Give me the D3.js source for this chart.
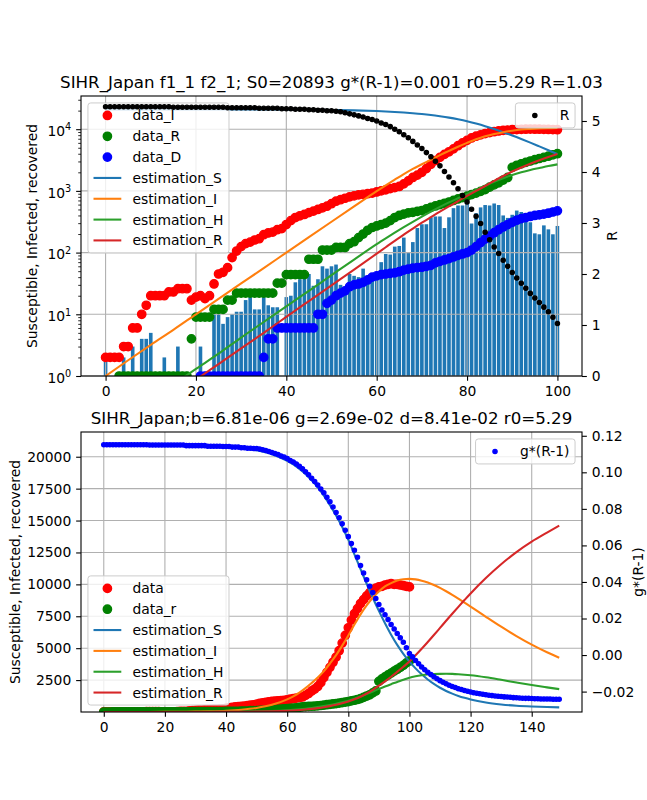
<!DOCTYPE html>
<html><head><meta charset="utf-8">
<script src="https://cdn.jsdelivr.net/npm/d3@7"></script>
<style>
body{margin:0;background:#fff}
text{font-family:"DejaVu Sans",sans-serif}
</style>
</head><body>
<svg id="c" width="647" height="800"></svg>
<script>
// ---------------- DATA ----------------
const days = d3.range(0, 101);
const dataI = [2,2,2,2,3,3,6,6,10,14,
 20,20,20,20,23,23,26,26,26,17,
 19,20,18,20,31,45,48,57,83,106,
 125,140,148,160,168,195,208,215,235,245,
 285,330,370,395,415,445,470,500,530,565,
 620,680,720,760,800,830,860,880,900,920,
 960,1000,1040,1090,1130,1180,1300,1450,1650,1800,
 2000,2300,2700,3100,3500,3900,4300,4800,5400,6000,
 6600,7200,7700,8100,8500,8800,9100,9350,9550,9700,
 9800,9850,9950,10000,10050,10000,10000,9950,9900,9850,
 9800];
const dataR = [0,0,0,1,1,1,1,1,1,1,
 1,1,1,1,1,1,1,1,1,4,
 9,9,9,9,12,12,12,17,17,22,
 22,22,22,22,22,22,22,22,32,32,
 44,44,44,44,44,78,78,78,110,110,
 110,121,121,121,140,150,175,200,230,255,
 270,285,300,330,370,400,420,440,450,465,
 480,510,540,570,600,630,660,700,740,780,
 820,870,920,980,1050,1150,1250,1350,1500,1650,
 2400,2600,2750,2900,3050,3200,3350,3500,3650,3850,
 4000];
const dataD = [0,0,0,0,0,0,0,0,0,0,
 0,0,0,0,0,0,0,0,0,0,
 0,1,1,1,1,1,1,1,1,1,
 1,1,1,1,1,2,4,4,6,6,
 6,6,6,6,6,6,6,10,10,15,
 17,20,22,24,28,30,31,33,36,40,
 42,44,45,46,47,49,52,54,56,57,
 58,60,62,68,72,76,80,85,90,95,
 100,110,125,145,165,185,210,235,260,285,
 310,335,355,370,385,400,410,420,435,455,
 475];
const dailyBars = [2,0,0,0,2,0,3,0,4,4,
 5,0,0,2,0,0,3,0,0,0,
 0,3,0,0,10,10,7,9,10,11,
 11,17,19,12,12,19,14,13,13,0,
 19,20,33,37,42,45,29,37,60,55,
 60,64,30,22,45,42,40,55,38,42,
 38,70,95,93,125,128,175,102,148,250,
 288,288,373,385,385,250,373,525,580,580,
 650,296,435,540,590,580,625,590,400,365,
 410,480,455,410,310,205,198,276,238,198,
 270];
const Rvals = [5.28,5.28,5.28,5.28,5.28,5.28,5.28,5.28,5.28,5.28,
 5.28,5.28,5.28,5.28,5.28,5.27,5.27,5.27,5.27,5.27,
 5.27,5.27,5.27,5.27,5.27,5.27,5.27,5.26,5.26,5.26,
 5.26,5.26,5.26,5.26,5.25,5.25,5.25,5.25,5.25,5.24,
 5.24,5.24,5.23,5.23,5.23,5.22,5.22,5.21,5.21,5.20,
 5.20,5.19,5.18,5.16,5.14,5.12,5.10,5.08,5.05,5.03,
 5.00,4.96,4.93,4.89,4.84,4.79,4.73,4.67,4.60,4.53,
 4.46,4.38,4.30,4.21,4.12,4.01,3.90,3.79,3.67,3.54,
 3.41,3.27,3.13,2.99,2.82,2.67,2.53,2.40,2.27,2.15,
 2.03,1.92,1.82,1.72,1.62,1.53,1.44,1.35,1.26,1.15,
 1.03];
const gDays = d3.range(0, 150);
const gR1 = [0.1151,0.1151,0.1151,0.1151,0.1151,0.1151,0.1151,0.1151,0.1151,0.1151,
 0.1151,0.1151,0.1151,0.1151,0.1151,0.1149,0.1149,0.1149,0.1149,0.1149,
 0.1149,0.1149,0.1149,0.1149,0.1149,0.1149,0.1149,0.1146,0.1146,0.1146,
 0.1146,0.1146,0.1146,0.1146,0.1143,0.1143,0.1143,0.1143,0.1143,0.1141,
 0.1141,0.1141,0.1138,0.1138,0.1138,0.1135,0.1135,0.1132,0.1132,0.1130,
 0.1130,0.1127,0.1124,0.1119,0.1114,0.1108,0.1103,0.1098,0.1089,0.1084,
 0.1076,0.1065,0.1057,0.1046,0.1033,0.1020,0.1003,0.0987,0.0968,0.0950,
 0.0931,0.0909,0.0888,0.0863,0.0839,0.0810,0.0780,0.0751,0.0718,0.0683,
 0.0648,0.0611,0.0573,0.0535,0.0490,0.0449,0.0412,0.0377,0.0342,0.0309,
 0.0277,0.0247,0.0221,0.0194,0.0167,0.0143,0.0118,0.0094,0.0070,0.0040,
 0.0008,-0.0010,-0.0030,-0.0048,-0.0065,-0.0080,-0.0094,-0.0107,-0.0119,-0.0130,
 -0.0140,-0.0149,-0.0157,-0.0165,-0.0172,-0.0178,-0.0184,-0.0189,-0.0194,-0.0198,
 -0.0202,-0.0206,-0.0209,-0.0212,-0.0215,-0.0217,-0.0220,-0.0222,-0.0224,-0.0226,
 -0.0227,-0.0229,-0.0230,-0.0231,-0.0233,-0.0234,-0.0235,-0.0236,-0.0237,-0.0237,
 -0.0238,-0.0239,-0.0239,-0.0240,-0.0240,-0.0241,-0.0241,-0.0242,-0.0242,-0.0242];
const estDays = [0,5,10,15,20,25,30,35,40,45,50,55,60,
 62,64,66,68,70,72,74,76,78,80,
 82,84,86,88,90,92,94,96,98,100,
 102,104,106,108,110,112,114,116,118,120,
 125,130,135,140,145,149];
const estS = [20892,20891,20889,20886,20881,20872,20855,20825,20770,20670,20500,20200,19680,
 19400,19050,18650,18150,17600,16950,16200,15400,14500,13500,
 12350,11200,10050,8950,7920,6950,6060,5260,4560,3950,
 3420,2950,2550,2200,1900,1650,1440,1260,1110,980,
 740,590,490,430,390,365];
const estI = [1,1.8,3.2,5.6,10,17.8,31.6,56,100,178,316,560,990,
 1230,1520,1870,2270,2700,3200,3800,4450,5200,6000,
 6850,7650,8350,8950,9450,9850,10100,10300,10400,10430,
 10390,10290,10140,9950,9720,9460,9180,8880,8570,8260,
 7460,6680,5950,5280,4680,4250];
const estH = [0,0.24,0.41,0.73,1.3,2.3,4.2,7.5,13.4,24,43,77,137,
 170,210,258,315,382,460,550,650,760,890,
 1040,1210,1400,1600,1810,2000,2180,2350,2530,2690,
 2800,2880,2935,2970,2990,2995,2985,2960,2925,2880,
 2720,2520,2310,2110,1930,1790];
const estR = [0,0.15,0.27,0.48,0.87,1.56,2.8,5.0,9.1,16.4,29.5,53,96,
 122,155,195,245,305,375,460,560,680,830,
 1000,1200,1450,1740,2060,2400,2760,3140,3540,3950,
 4440,4950,5480,6030,6590,7150,7700,8240,8770,9290,
 10500,11580,12530,13350,14050,14600];

const xTicksTop = [0,20,40,60,80,100];
const yTicksTopLog = [1,10,100,1000,10000];
const rTicks = [0,1,2,3,4,5];
const xTicksBot = [0,20,40,60,80,100,120,140];
const yTicksBot = [2500,5000,7500,10000,12500,15000,17500,20000];
const gTicks = [-0.02,0,0.02,0.04,0.06,0.08,0.10,0.12];

const title1 = "SIHR_Japan f1_1 f2_1; S0=20893 g*(R-1)=0.001 r0=5.29 R=1.03";
const title2 = "SIHR_Japan;b=6.81e-06 g=2.69e-02 d=8.41e-02 r0=5.29";
const yLabel = "Susceptible, Infected, recovered";

// ---------------- LAYOUT ----------------
const C0='#1f77b4', C1='#ff7f0e', C2='#2ca02c', C3='#d62728';
const FS = 13.89, LW = 2.08, GRID='#b0b0b0';
const L=81, Rx=582;
const T1=96, B1=376, T2=432, B2=712;
const svg = d3.select('#c');
const defs = svg.append('defs');
defs.append('clipPath').attr('id','clipT').append('rect').attr('x',L).attr('y',T1).attr('width',Rx-L).attr('height',B1-T1);
defs.append('clipPath').attr('id','clipB').append('rect').attr('x',L).attr('y',T2).attr('width',Rx-L).attr('height',B2-T2);

const xT = d3.scaleLinear().domain([-5.44,105.44]).range([L,Rx]);
const yT = d3.scaleLog().domain([1,34500]).range([B1,T1]);
const rT = d3.scaleLinear().domain([0,5.49]).range([B1,T1]);
const xB = d3.scaleLinear().domain([-7.45,156.45]).range([L,Rx]);
const yB = d3.scaleLinear().domain([0,21938]).range([B2,T2]);
const gExt = d3.extent(gR1), gPad = (gExt[1]-gExt[0])*0.05;
const gB = d3.scaleLinear().domain([gExt[0]-gPad, gExt[1]+gPad]).range([B2,T2]);

function styleAxis(g){
  g.attr('font-family',null).attr('font-size',null);
  g.select('.domain').remove();
  g.selectAll('.tick line').attr('stroke','#000').attr('stroke-width',1.1);
  g.selectAll('.tick text').attr('fill','#000').style('font-size',FS+'px').style('font-family','DejaVu Sans');
}
function dots(g, xs, ys, xsc, ysc, color, r, filterFn){
  g.selectAll(null).data(xs.map((d,i)=>({x:d,y:ys[i]})).filter(filterFn||(()=>true)))
   .enter().append('circle').attr('cx',d=>xsc(d.x)).attr('cy',d=>ysc(d.y)).attr('r',r)
   .attr('fill',color).attr('stroke',color).attr('stroke-width',1.39);
}
function curve(g, xs, ys, xsc, ysc, color, defFn){
  const pts = xs.map((d,i)=>({x:d,y:ys[i]}));
  g.append('path').datum(pts).attr('fill','none').attr('stroke',color).attr('stroke-width',LW)
   .attr('d', d3.line().defined(defFn||(()=>true)).x(d=>xsc(d.x)).y(d=>ysc(d.y)).curve(d3.curveMonotoneX));
}
function legend(items, anchorX, y0, alignRight){
  const pad=5.56, sp=6.94, hl=27.8, htp=11.1;
  const g = svg.append('g');
  const rect = g.append('rect');
  let maxW = 0;
  items.forEach((it,i)=>{
    const cy = y0 + pad + FS/2 + i*(FS+sp);
    const t = g.append('text').attr('x',pad+hl+htp).attr('y',cy).attr('dy','0.36em')
      .attr('fill','#000').style('font-size',FS+'px').text(it.label);
    maxW = Math.max(maxW, t.node().getComputedTextLength());
    if(it.type==='line'){
      g.append('line').attr('x1',pad).attr('x2',pad+hl).attr('y1',cy).attr('y2',cy)
        .attr('stroke',it.color).attr('stroke-width',LW);
    } else {
      g.append('circle').attr('cx',pad+hl/2).attr('cy',cy).attr('r',it.r)
        .attr('fill',it.color).attr('stroke',it.color).attr('stroke-width',1.39);
    }
  });
  const w = pad+hl+htp+maxW+pad;
  const h = 2*pad + items.length*FS + (items.length-1)*sp;
  rect.attr('x',0).attr('y',y0).attr('width',w).attr('height',h).attr('rx',2.8)
    .attr('fill','white').attr('fill-opacity',0.8).attr('stroke','#cccccc').attr('stroke-width',1);
  g.attr('transform',`translate(${alignRight?anchorX-w:anchorX},0)`);
}

// ================= TOP CHART =================
const topG = svg.append('g');
const topClip = topG.append('g').attr('clip-path','url(#clipT)');
const bw = xT(0.8)-xT(0);
topClip.selectAll(null).data(days.map((d,i)=>({d, v:dailyBars[i]})).filter(o=>o.v>0))
  .enter().append('rect').attr('x',o=>xT(o.d-0.4)).attr('width',bw)
  .attr('y',o=>yT(o.v)).attr('height',o=>B1-yT(o.v)).attr('fill',C0);
topG.append('g').selectAll(null).data(xTicksTop).enter().append('line')
  .attr('x1',d=>xT(d)).attr('x2',d=>xT(d)).attr('y1',T1).attr('y2',B1).attr('stroke',GRID).attr('stroke-width',1.1);
topG.append('g').selectAll(null).data(yTicksTopLog).enter().append('line')
  .attr('x1',L).attr('x2',Rx).attr('y1',d=>yT(d)).attr('y2',d=>yT(d)).attr('stroke',GRID).attr('stroke-width',1.1);
const topData = topG.append('g').attr('clip-path','url(#clipT)');
dots(topData, days, dataI, xT, yT, '#ff0000', 4.17, d=>d.y>0);
dots(topData, days, dataR, xT, yT, '#008000', 4.17, d=>d.y>0);
dots(topData, days, dataD, xT, yT, '#0000ff', 4.17, d=>d.y>0);
const topIdx = estDays.map((d,i)=>i).filter(i=>estDays[i]<=100);
const tDays = topIdx.map(i=>estDays[i]);
[[estS,C0],[estI,C1],[estH,C2],[estR,C3]].forEach(([arr,col])=>{
  curve(topData, tDays, topIdx.map(i=>arr[i]), xT, yT, col, d=>d.y>0);
});
legend([
  {label:'data_I',type:'dot',color:'#ff0000',r:4.17},
  {label:'data_R',type:'dot',color:'#008000',r:4.17},
  {label:'data_D',type:'dot',color:'#0000ff',r:4.17},
  {label:'estimation_S',type:'line',color:C0},
  {label:'estimation_I',type:'line',color:C1},
  {label:'estimation_H',type:'line',color:C2},
  {label:'estimation_R',type:'line',color:C3}
], L+6.94, T1+6.94, false);
const twinT = svg.append('g').attr('clip-path','url(#clipT)');
dots(twinT, days, Rvals, xT, rT, '#000000', 2.08);
legend([{label:'R',type:'dot',color:'#000000',r:2.08}], Rx-6.94, T1+6.94, true);
svg.append('rect').attr('x',L).attr('y',T1).attr('width',Rx-L).attr('height',B1-T1)
  .attr('fill','none').attr('stroke','#000').attr('stroke-width',1.1);
svg.append('g').attr('transform',`translate(0,${B1})`)
  .call(d3.axisBottom(xT).tickValues(xTicksTop).tickSize(4.86).tickPadding(4.86).tickFormat(d3.format('d'))).call(styleAxis);
const minorVals = [];
[1,10,100,1000,10000].forEach(b=>{ for(let m=2;m<=9;m++){ const v=b*m; if(v<34500) minorVals.push(v);} });
svg.append('g').attr('transform',`translate(${L},0)`)
  .call(d3.axisLeft(yT).tickValues(minorVals).tickSize(2.78).tickFormat(()=>''))
  .call(styleAxis).call(g=>g.selectAll('.tick line').attr('stroke-width',0.83));
const gyT = svg.append('g').attr('transform',`translate(${L},0)`)
  .call(d3.axisLeft(yT).tickValues(yTicksTopLog).tickSize(4.86).tickFormat(()=>''))
  .call(styleAxis);
gyT.selectAll('.tick').each(function(d){
  const t = d3.select(this).append('text').attr('x',-9.72).attr('y',6.4)
    .attr('text-anchor','end').attr('fill','#000').style('font-size',FS+'px');
  t.append('tspan').text('10');
  t.append('tspan').attr('dy',-5.6).style('font-size','9.7px').text(Math.round(Math.log10(d)));
});
svg.append('g').attr('transform',`translate(${Rx},0)`)
  .call(d3.axisRight(rT).tickValues(rTicks).tickSize(4.86).tickPadding(4.86).tickFormat(d3.format('d'))).call(styleAxis);
svg.append('text').attr('x',(L+Rx)/2).attr('y',T1-8.3).attr('text-anchor','middle')
  .style('font-size','16.67px').attr('fill','#000').text(title1);
svg.append('text').attr('transform',`translate(37,${(T1+B1)/2}) rotate(-90)`).attr('text-anchor','middle')
  .style('font-size',FS+'px').attr('fill','#000').text(yLabel);
svg.append('text').attr('transform',`translate(617,${(T1+B1)/2}) rotate(-90)`).attr('text-anchor','middle')
  .style('font-size',FS+'px').attr('fill','#000').text('R');

// ================= BOTTOM CHART =================
const botG = svg.append('g');
botG.append('g').selectAll(null).data(xTicksBot).enter().append('line')
  .attr('x1',d=>xB(d)).attr('x2',d=>xB(d)).attr('y1',T2).attr('y2',B2).attr('stroke',GRID).attr('stroke-width',1.1);
botG.append('g').selectAll(null).data(yTicksBot).enter().append('line')
  .attr('x1',L).attr('x2',Rx).attr('y1',d=>yB(d)).attr('y2',d=>yB(d)).attr('stroke',GRID).attr('stroke-width',1.1);
const botData = botG.append('g').attr('clip-path','url(#clipB)');
dots(botData, days, dataI, xB, yB, '#ff0000', 4.17);
dots(botData, days, dataR, xB, yB, '#008000', 4.17);
[[estS,C0],[estI,C1],[estH,C2],[estR,C3]].forEach(([arr,col])=>{
  curve(botData, estDays, arr, xB, yB, col);
});
legend([
  {label:'data',type:'dot',color:'#ff0000',r:4.17},
  {label:'data_r',type:'dot',color:'#008000',r:4.17},
  {label:'estimation_S',type:'line',color:C0},
  {label:'estimation_I',type:'line',color:C1},
  {label:'estimation_H',type:'line',color:C2},
  {label:'estimation_R',type:'line',color:C3}
], L+6.94, B2-6.94-(2*5.56+6*FS+5*6.94), false);
const twinB = svg.append('g').attr('clip-path','url(#clipB)');
dots(twinB, gDays, gR1, xB, gB, '#0000ff', 2.08);
legend([{label:'g*(R-1)',type:'dot',color:'#0000ff',r:2.08}], Rx-6.94, T2+6.94, true);
svg.append('rect').attr('x',L).attr('y',T2).attr('width',Rx-L).attr('height',B2-T2)
  .attr('fill','none').attr('stroke','#000').attr('stroke-width',1.1);
svg.append('g').attr('transform',`translate(0,${B2})`)
  .call(d3.axisBottom(xB).tickValues(xTicksBot).tickSize(4.86).tickPadding(4.86).tickFormat(d3.format('d'))).call(styleAxis);
svg.append('g').attr('transform',`translate(${L},0)`)
  .call(d3.axisLeft(yB).tickValues(yTicksBot).tickSize(4.86).tickPadding(4.86).tickFormat(d3.format('d'))).call(styleAxis);
svg.append('g').attr('transform',`translate(${Rx},0)`)
  .call(d3.axisRight(gB).tickValues(gTicks).tickSize(4.86).tickPadding(4.86).tickFormat(d3.format('.2f'))).call(styleAxis);
svg.append('text').attr('x',(L+Rx)/2).attr('y',T2-8.3).attr('text-anchor','middle')
  .style('font-size','16.67px').attr('fill','#000').text(title2);
svg.append('text').attr('transform',`translate(19.5,${(T2+B2)/2}) rotate(-90)`).attr('text-anchor','middle')
  .style('font-size',FS+'px').attr('fill','#000').text(yLabel);
svg.append('text').attr('transform',`translate(643,${(T2+B2)/2}) rotate(-90)`).attr('text-anchor','middle')
  .style('font-size',FS+'px').attr('fill','#000').text('g*(R-1)');
</script>
</body></html>
